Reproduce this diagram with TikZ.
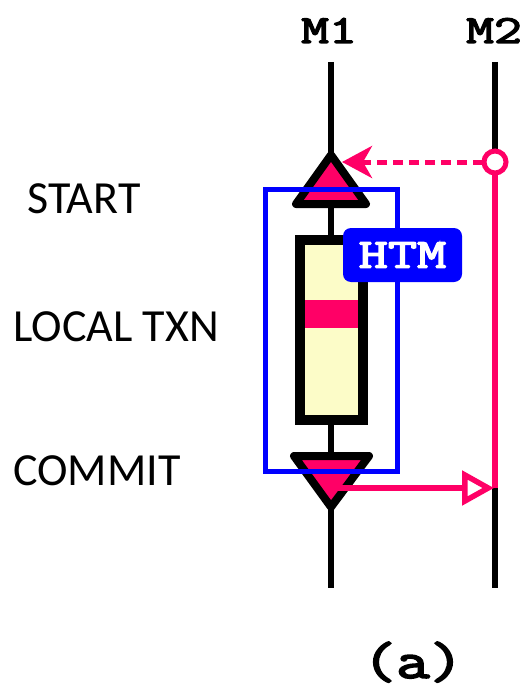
\documentclass[tikz,border=0pt]{standalone}
\usepackage{fontspec}
\setmainfont{Carlito}
\newfontfamily\courb[FakeBold=3]{Latin Modern Mono}
\usetikzlibrary{arrows.meta}
\definecolor{hpink}{HTML}{FF0066}
\definecolor{hblue}{HTML}{0000FF}
\definecolor{hyell}{HTML}{FCFCC8}
\tikzset{
  lbl/.style={anchor=base west, font=\fontsize{46}{50}\selectfont, inner sep=0pt},
  mach/.style={anchor=base, font=\courb\fontsize{40}{42}\selectfont, inner sep=0pt, xscale=1.35},
  life/.style={line width=6.5pt, black},
  tri/.style={line width=8pt, draw=black, fill=hpink, line join=round},
  msg/.style={line width=6pt, hpink},
}
\begin{document}
\begin{tikzpicture}[x=1pt,y=-1pt]
\useasboundingbox (0,0) rectangle (526,693);
% machine labels
\node[mach] (m1) at (329,43) {M1};
\node[mach] (m2) at (494,43) {M2};
% lifelines
\coordinate (m1top) at (331,62);
\coordinate (m1bot) at (331,588);
\coordinate (m2top) at (495,62);
\coordinate (m2bot) at (495,588);
\draw[life] (m1top) -- (m1bot);
\draw[life] (m2top) -- (m2bot);
% M2 message path
\coordinate (circ) at (495,162);
\coordinate (cmt) at (495,488);
\draw[msg] (circ) -- (cmt);
% start triangle
\draw[tri] (331,155) -- (366,204) -- (296,204) -- cycle;
% commit triangle
\draw[tri] (294,456) -- (369,456) -- (331,507) -- cycle;
% local txn box
\draw[line width=10pt, fill=hyell] (300,240) rectangle (363,420);
\fill[hpink] (305,300) rectangle (358,328);
% HTM frame
\draw[hblue, line width=5pt] (265,189.5) rectangle (397,471);
\node[fill=hblue, rounded corners=8pt, minimum width=119pt, minimum height=54pt, inner sep=0pt,
      font=\courb\fontsize{42}{44}\selectfont, text=white] (htm) at (402.5,255)
      {\scalebox{1.35}[1]{HTM}};
% dashed arrow
\coordinate (apex) at (342,162);
\draw[msg, line width=5pt, dash pattern=on 10pt off 6pt,
      -{Stealth[length=30pt,width=32pt,inset=9pt]}] (483,162) -- (apex);
\draw[hpink, line width=5pt, fill=white] (circ) circle (11pt);
% commit arrow
\coordinate (ctri) at (333,488);
\draw[msg, line width=5.5pt, -{Triangle[open,length=32pt,width=34pt]}] (ctri) -- (494,488);
% side labels
\node[lbl] (start) at (27,213) {START};
\node[lbl] (ltx) at (13,341) {LOCAL TXN};
\node[lbl] (com) at (13,485) {COMMIT};
% caption
\node[anchor=base, font=\courb\fontsize{52}{54}\selectfont, inner sep=0pt, xscale=1.25] (cap) at (413,678) {(a)};
\end{tikzpicture}
\end{document}
